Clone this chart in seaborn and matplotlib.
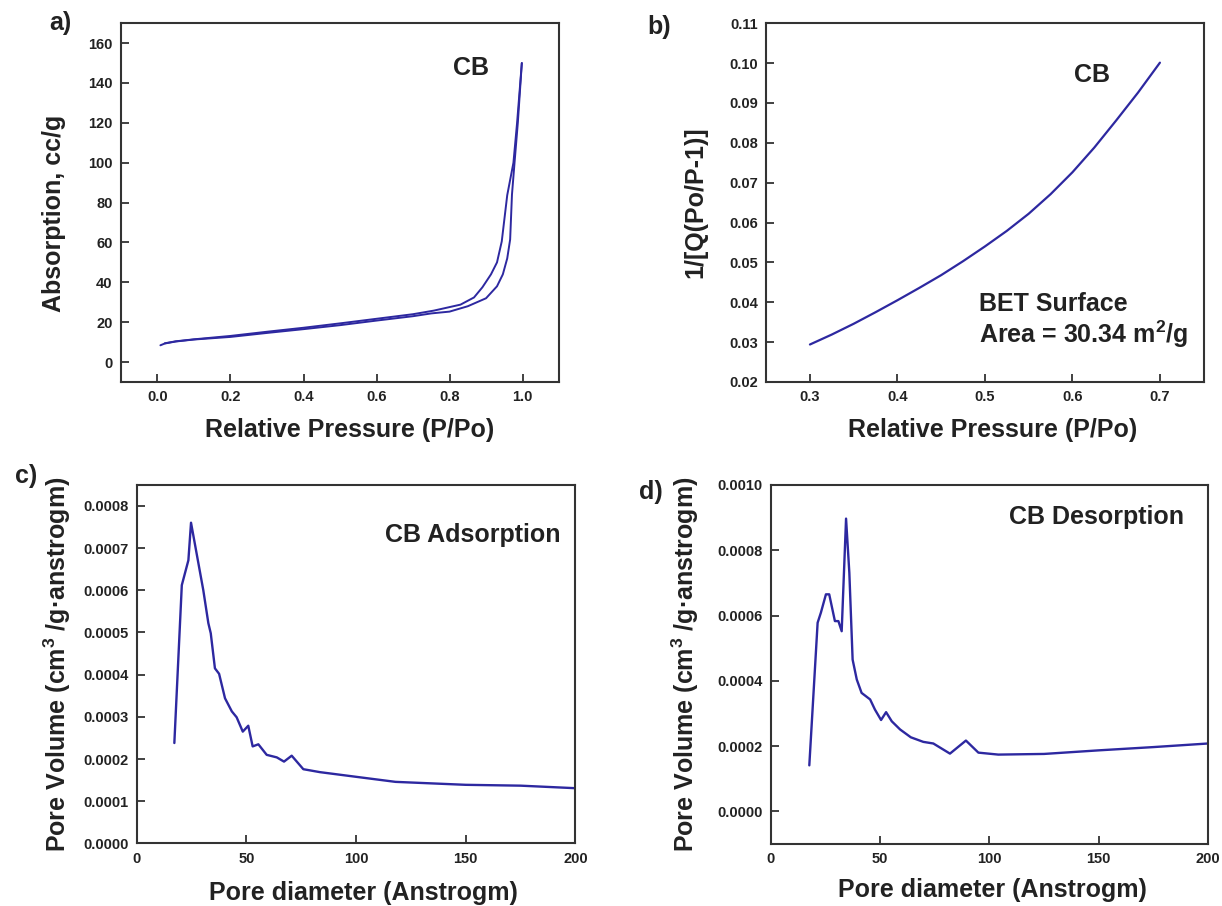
import matplotlib.pyplot as plt
import matplotlib.ticker as mticker
import seaborn as sns

# a) nitrogen isotherm (adsorption = lower branch, desorption = upper branch)
ads_p = [0.008, 0.02, 0.05, 0.1, 0.2, 0.3, 0.4, 0.5, 0.6, 0.7, 0.75, 0.8, 0.85,
         0.9, 0.93, 0.946, 0.958, 0.966, 0.971, 0.978, 0.987, 0.998]
ads_q = [8.4, 9.3, 10.3, 11.3, 12.6, 14.6, 16.5, 18.5, 20.8, 23.0, 24.4, 25.3, 28.0,
         32.0, 38.0, 44.0, 52.0, 61.5, 84.0, 100.0, 120.0, 150.0]
des_p = [0.998, 0.985, 0.975, 0.958, 0.943, 0.93, 0.9135, 0.89, 0.867, 0.83,
         0.757, 0.7, 0.6, 0.5, 0.4, 0.3, 0.2, 0.1, 0.05, 0.02]
des_q = [150.0, 120.0, 100.0, 83.7, 60.5, 50.0, 44.0, 37.5, 32.4, 28.8,
         25.8, 24.0, 21.7, 19.4, 17.2, 15.2, 13.1, 11.4, 10.4, 9.4]

# b) BET plot
bet_p = [0.300, 0.325, 0.350, 0.375, 0.400, 0.425, 0.450, 0.475, 0.500, 0.525,
         0.550, 0.575, 0.600, 0.625, 0.650, 0.675, 0.700]
bet_y = [0.0294, 0.0319, 0.0346, 0.0375, 0.0405, 0.0436, 0.0468, 0.0503, 0.0540,
         0.0579, 0.0622, 0.0671, 0.0726, 0.0788, 0.0856, 0.0926, 0.1001]

# c) pore size distribution, adsorption
adsorp_d = [17.2, 20.6, 23.6, 24.8, 30.4, 32.7, 33.8, 35.7, 37.6, 40.3, 43.4, 45.6,
            48.4, 50.9, 52.9, 55.5, 59.3, 63.9, 67.2, 70.7, 76.0, 83.6, 100, 118,
            150, 175, 200]
adsorp_v = [0.000238, 0.000612, 0.000671, 0.000760, 0.000600, 0.000522, 0.000498,
            0.000415, 0.000402, 0.000344, 0.000313, 0.000299, 0.000265, 0.000279,
            0.000230, 0.000235, 0.000210, 0.000204, 0.000194, 0.000208, 0.000176,
            0.000169, 0.000158, 0.000146, 0.000139, 0.000137, 0.000131]

# d) pore size distribution, desorption
desorp_d = [17.7, 21.5, 23.0, 25.3, 26.8, 29.4, 31.0, 32.5, 34.5, 36.0, 37.5, 39.4,
            41.6, 45.5, 47.7, 50.5, 52.8, 55.4, 59.2, 64.1, 69.8, 74.4, 82.0, 89.3,
            95.0, 104.1, 125, 150, 175, 200]
desorp_v = [0.000141, 0.000578, 0.000609, 0.000665, 0.000665, 0.000583, 0.000583,
            0.000552, 0.000897, 0.000731, 0.000465, 0.000404, 0.000363, 0.000343,
            0.000312, 0.000280, 0.000304, 0.000276, 0.000251, 0.000227, 0.000213,
            0.000208, 0.000177, 0.000217, 0.000180, 0.000174, 0.000176, 0.000187,
            0.000197, 0.000208]

LINE = "#2d28a0"
INK = "#222222"

sns.set_style("ticks")
plt.rcParams["font.family"] = ["Liberation Sans", "DejaVu Sans"]
plt.rcParams["font.weight"] = "bold"
plt.rcParams["mathtext.fontset"] = "custom"
plt.rcParams["mathtext.rm"] = "Liberation Sans:bold"
plt.rcParams["mathtext.default"] = "rm"


def setup(ax):
    for s in ax.spines.values():
        s.set_visible(True)
        s.set_linewidth(1.5)
        s.set_color("#333333")
    ax.tick_params(direction="in", length=6, width=1.3, color="#333333",
                   labelsize=10.5, labelcolor=INK, pad=6, top=False, right=False)
    for lab in ax.get_xticklabels() + ax.get_yticklabels():
        lab.set_fontweight("bold")


def labels(ax, xl, yl, xpos, ypos):
    ax.set_xlabel(xl, fontsize=18, fontweight="bold", color=INK, va="center")
    ax.set_ylabel(yl, fontsize=18, fontweight="bold", color=INK, va="center")
    ax.xaxis.set_label_coords(*xpos)
    ax.yaxis.set_label_coords(*ypos)


fig = plt.figure(figsize=(12.22, 9.06), dpi=100)
ax_a = fig.add_axes([0.099, 0.5784, 0.3585, 0.396])
ax_b = fig.add_axes([0.627, 0.5784, 0.358, 0.396])
ax_c = fig.add_axes([0.1118, 0.069, 0.359, 0.396])
ax_d = fig.add_axes([0.6306, 0.0684, 0.358, 0.3963])

# a)
sns.lineplot(x=ads_p, y=ads_q, sort=False, estimator=None, color=LINE, lw=1.4, ax=ax_a)
sns.lineplot(x=des_p, y=des_q, sort=False, estimator=None, color=LINE, lw=1.4, ax=ax_a)
ax_a.set_xlim(-0.1, 1.1)
ax_a.set_ylim(-10, 170)
ax_a.set_xticks([0.0, 0.2, 0.4, 0.6, 0.8, 1.0])
ax_a.set_yticks(range(0, 161, 20))
ax_a.xaxis.set_major_formatter(mticker.FormatStrFormatter("%.1f"))
ax_a.text(0.80, 0.875, "CB", transform=ax_a.transAxes, fontsize=18,
          fontweight="bold", color=INK, ha="center", va="center")
labels(ax_a, "Relative Pressure (P/Po)", "Absorption, cc/g", (0.523, -0.134), (-0.153, 0.47))

# b)
sns.lineplot(x=bet_p, y=bet_y, sort=False, estimator=None, color=LINE, lw=1.6, ax=ax_b)
ax_b.set_xlim(0.25, 0.75)
ax_b.set_ylim(0.02, 0.11)
ax_b.set_xticks([0.3, 0.4, 0.5, 0.6, 0.7])
ax_b.set_yticks([0.02 + 0.01 * i for i in range(10)])
ax_b.xaxis.set_major_formatter(mticker.FormatStrFormatter("%.1f"))
ax_b.yaxis.set_major_formatter(mticker.FormatStrFormatter("%.2f"))
ax_b.text(0.744, 0.855, "CB", transform=ax_b.transAxes, fontsize=18,
          fontweight="bold", color=INK, ha="center", va="center")
ax_b.text(0.486, 0.17, "BET Surface\nArea = 30.34 m$^{2}$/g", transform=ax_b.transAxes,
          fontsize=18, fontweight="bold", color=INK, ha="left", va="center",
          linespacing=1.1)
labels(ax_b, "Relative Pressure (P/Po)", "1/[Q(Po/P-1)]", (0.518, -0.134), (-0.162, 0.5))

# c)
sns.lineplot(x=adsorp_d, y=adsorp_v, sort=False, estimator=None, color=LINE, lw=1.7, ax=ax_c)
ax_c.set_xlim(0, 200)
ax_c.set_ylim(0, 0.00085)
ax_c.set_xticks([0, 50, 100, 150, 200])
ax_c.set_yticks([0.0001 * i for i in range(9)])
ax_c.yaxis.set_major_formatter(mticker.FormatStrFormatter("%.4f"))
ax_c.text(0.766, 0.859, "CB Adsorption", transform=ax_c.transAxes, fontsize=18,
          fontweight="bold", color=INK, ha="center", va="center")
labels(ax_c, "Pore diameter (Anstrogm)", "Pore Volume (cm$^{3}$ /g\u00b7anstrogm)",
       (0.518, -0.138), (-0.181, 0.5))

# d)
sns.lineplot(x=desorp_d, y=desorp_v, sort=False, estimator=None, color=LINE, lw=1.7, ax=ax_d)
ax_d.set_xlim(0, 200)
ax_d.set_ylim(-0.0001, 0.001)
ax_d.set_xticks([0, 50, 100, 150, 200])
ax_d.set_yticks([0.0002 * i for i in range(6)])
ax_d.yaxis.set_major_formatter(mticker.FormatStrFormatter("%.4f"))
ax_d.text(0.744, 0.911, "CB Desorption", transform=ax_d.transAxes, fontsize=18,
          fontweight="bold", color=INK, ha="center", va="center")
labels(ax_d, "Pore diameter (Anstrogm)", "Pore Volume (cm$^{3}$ /g\u00b7anstrogm)",
       (0.508, -0.128), (-0.196, 0.5))

for ax in (ax_a, ax_b, ax_c, ax_d):
    setup(ax)

# panel letters
for letter, px, py in [("a)", 60, 23), ("b)", 659, 27), ("c)", 26, 476), ("d)", 651, 492)]:
    fig.text(px / 1222, 1 - py / 906, letter, fontsize=18, fontweight="bold",
             color=INK, ha="center", va="center")

fig.savefig("out.png", dpi=100)
